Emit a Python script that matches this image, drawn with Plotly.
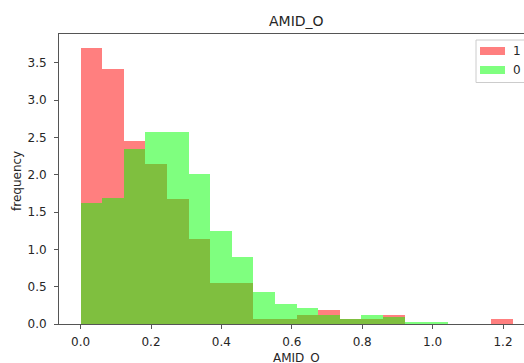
import numpy as np
import plotly.graph_objects as go

# ---- data (density histogram heights) ----
bin_lo = 0.0
bin_hi = 1.227
n_bins = 20
labels = ["1", "0"]
red_vals = [3.70, 3.41, 2.45, 2.14, 1.67, 1.14, 0.55, 0.55, 0.07, 0.07,
            0.12, 0.19, 0.065, 0.07, 0.12, 0.0, 0.0, 0.0, 0.0, 0.07]
green_vals = [1.62, 1.69, 2.34, 2.57, 2.57, 2.01, 1.25, 0.90, 0.43, 0.27,
              0.21, 0.12, 0.065, 0.12, 0.09, 0.03, 0.03, 0.0, 0.0, 0.0]
x_ticks = [0.0, 0.2, 0.4, 0.6, 0.8, 1.0, 1.2]
y_ticks = [0.0, 0.5, 1.0, 1.5, 2.0, 2.5, 3.0, 3.5]
title = "AMID_O"
x_label = "AMID_O"
y_label = "frequency"

edges = np.linspace(bin_lo, bin_hi, n_bins + 1)
centers = (edges[:-1] + edges[1:]) / 2
widths = np.diff(edges)

W, H = 524, 363
# target plot area in window pixels: left 59, right 524, top 34, bottom 324
ML, MR, MT, MB = 59, 0, 34, 363 - 324
PW, PH = W - ML - MR, H - MT - MB

def px_x(p):  # window pixel -> paper x
    return (p - ML) / PW

def px_y(p):  # window pixel -> paper y
    return (H - MB - p) / PH

FONT = "DejaVu Sans"
TXT = "#262626"
AX = "#555555"

fig = go.Figure()
fig.add_trace(go.Bar(x=centers, y=red_vals, width=widths, name=labels[0],
                     marker=dict(color="rgba(255,0,0,0.5)", line=dict(width=0)),
                     showlegend=False))
fig.add_trace(go.Bar(x=centers, y=green_vals, width=widths, name=labels[1],
                     marker=dict(color="rgba(0,255,0,0.5)", line=dict(width=0)),
                     showlegend=False))

span = bin_hi - bin_lo
xmin = bin_lo - 0.05 * span
xmax = xmin + PW / 352.0
ymax = max(max(red_vals), max(green_vals)) * 1.05

fig.update_layout(
    width=W, height=H,
    margin=dict(l=ML, r=MR, t=MT, b=MB, pad=0),
    paper_bgcolor="white", plot_bgcolor="white",
    barmode="overlay", bargap=0,
    font=dict(family=FONT, size=12, color=TXT),
    showlegend=False,
    xaxis=dict(range=[xmin, xmax], tickvals=x_ticks, tickformat=".1f",
               showgrid=False, zeroline=False, showline=True, linecolor=AX,
               linewidth=1, mirror=True, ticks="outside", ticklen=4,
               tickcolor=AX, tickwidth=1, ticklabelstandoff=3,
               tickfont=dict(family=FONT, size=12, color=TXT)),
    yaxis=dict(range=[0, ymax], tickvals=y_ticks, tickformat=".1f",
               showgrid=False, zeroline=False, showline=True, linecolor=AX,
               linewidth=1, mirror=False, ticks="outside", ticklen=4,
               tickcolor=AX, tickwidth=1, ticklabelstandoff=5,
               tickfont=dict(family=FONT, size=12, color=TXT)),
)

# title and axis labels
fig.add_annotation(text=title, xref="paper", yref="paper",
                   x=px_x(296.7), y=px_y(21.5), xanchor="center", yanchor="middle",
                   showarrow=False, font=dict(family=FONT, size=14, color=TXT))
fig.add_annotation(text=x_label, xref="paper", yref="paper",
                   x=px_x(296.7), y=px_y(357.5), xanchor="center", yanchor="middle",
                   showarrow=False, font=dict(family=FONT, size=12, color=TXT))
fig.add_annotation(text=y_label, xref="paper", yref="paper",
                   x=px_x(17), y=px_y(181), xanchor="center", yanchor="middle",
                   textangle=-90, showarrow=False,
                   font=dict(family=FONT, size=12, color=TXT))

# matplotlib-style legend (box runs off the right edge as in the reference)
fig.add_shape(type="rect", xref="paper", yref="paper",
              x0=px_x(476), x1=px_x(545), y0=px_y(40), y1=px_y(82.5),
              line=dict(color="#cccccc", width=1), fillcolor="rgba(255,255,255,0.8)",
              layer="above")
colors = ["rgba(255,0,0,0.5)", "rgba(0,255,0,0.5)"]
for i, (lab, col) in enumerate(zip(labels, colors)):
    cy = 51 + i * 19
    fig.add_shape(type="rect", xref="paper", yref="paper",
                  x0=px_x(480), x1=px_x(505), y0=px_y(cy - 4), y1=px_y(cy + 4),
                  line=dict(width=0), fillcolor=col, layer="above")
    fig.add_annotation(text=lab, xref="paper", yref="paper",
                       x=px_x(511), y=px_y(cy), xanchor="left", yanchor="middle",
                       showarrow=False, font=dict(family=FONT, size=12, color=TXT))

post = ("document.documentElement.style.margin='0';"
        "document.documentElement.style.overflow='hidden';"
        "document.body.style.margin='0';"
        "document.body.style.padding='0';"
        "document.body.style.overflow='hidden';")
fig.write_html("out.html", post_script=post,
               config={"displayModeBar": False, "staticPlot": True})
